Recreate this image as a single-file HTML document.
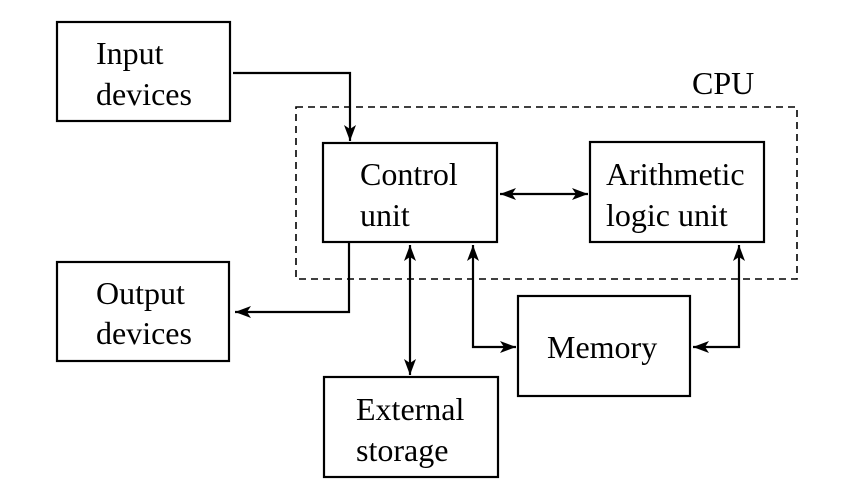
<!DOCTYPE html>
<html><head><meta charset="utf-8"><style>
html,body{margin:0;padding:0;background:#fff;width:856px;height:482px;overflow:hidden}
text{font-family:"Liberation Serif","DejaVu Serif","Times New Roman",serif;font-size:32px;fill:#000}
</style></head><body>
<svg width="856" height="482" viewBox="0 0 856 482" xmlns="http://www.w3.org/2000/svg">
<defs>
<marker id="a" viewBox="0 0 16 12" refX="16" refY="6" markerWidth="16" markerHeight="12" markerUnits="userSpaceOnUse" orient="auto-start-reverse">
<path d="M0,0 L16,6 L0,12 L4,6 z" fill="#000"/>
</marker>
</defs>
<g fill="none" stroke="#000" stroke-width="2.2">
<rect x="57" y="22" width="173" height="99"/>
<rect x="57" y="262" width="172" height="99"/>
<rect x="323" y="143" width="174" height="99"/>
<rect x="590" y="142" width="174" height="100"/>
<rect x="518" y="296" width="172" height="100"/>
<rect x="324" y="377" width="174" height="100"/>
<rect x="296" y="107" width="501" height="172" stroke-width="1.6" stroke-dasharray="7,5"/>
<polyline points="233,73 350,73 350,141" marker-end="url(#a)"/>
<polyline points="349,243 349,312 235,312" marker-end="url(#a)"/>
<line x1="410" y1="245" x2="410" y2="375" marker-start="url(#a)" marker-end="url(#a)"/>
<polyline points="473,245 473,347 516,347" marker-start="url(#a)" marker-end="url(#a)"/>
<polyline points="739,245 739,347 693,347" marker-start="url(#a)" marker-end="url(#a)"/>
<line x1="500" y1="194" x2="588" y2="194" marker-start="url(#a)" marker-end="url(#a)"/>
</g>
<g font-family="Liberation Serif, DejaVu Serif, serif" font-size="32">
<text x="96" y="64">Input</text>
<text x="96" y="105">devices</text>
<text x="96" y="304">Output</text>
<text x="96" y="344">devices</text>
<text x="360" y="185">Control</text>
<text x="360" y="226">unit</text>
<text x="606" y="185">Arithmetic</text>
<text x="606" y="226">logic unit</text>
<text x="547" y="358">Memory</text>
<text x="356" y="420">External</text>
<text x="356" y="461">storage</text>
<text x="692" y="94">CPU</text>
</g>
</svg>
</body></html>
